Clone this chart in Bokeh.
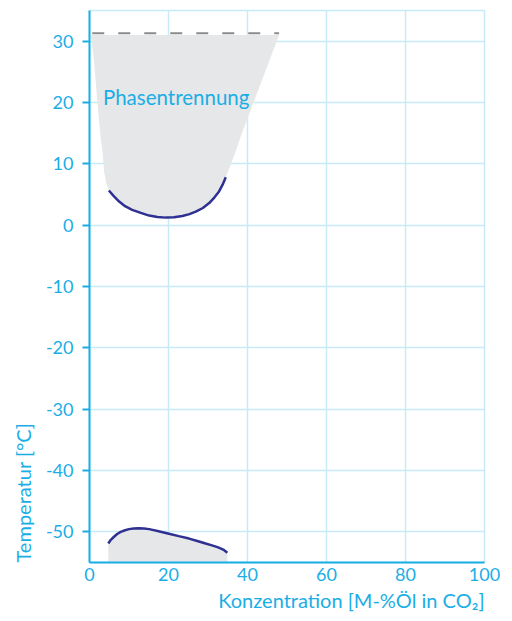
from bokeh.plotting import figure
from bokeh.models import FixedTicker, Range1d, Title
from bokeh.core.properties import value
from bokeh.embed import file_html
from bokeh.resources import INLINE

# ---- data ----
x_ticks = [0, 20, 40, 60, 80, 100]
y_ticks = [30, 20, 10, 0, -10, -20, -30, -40, -50]
y_tick_labels = ["30", "20", "10", "0", "-10", "-20", "-30", "-40", "-50"]

# upper region: left edge (top -> down)
upper_left_x = [0.3, 1.1, 2.0, 2.8, 3.3, 3.7, 4.2]
upper_left_y = [31.0, 27.0, 20.0, 14.4, 12.0, 8.7, 7.0]
# upper blue curve
upper_curve_x = [4.9, 6.2, 7.5, 9.0, 10.8, 13.0, 15.1, 17.2, 19.3, 21.4, 23.5, 25.3, 26.9, 28.7, 30.3, 31.6, 32.8, 33.7, 34.5]
upper_curve_y = [5.65, 4.7, 3.85, 3.1, 2.5, 2.0, 1.56, 1.33, 1.23, 1.3, 1.5, 1.8, 2.2, 2.8, 3.6, 4.5, 5.5, 6.6, 7.8]
# upper right edge (bottom -> top)
upper_right_x = [35.7, 37.0, 38.3, 48.0]
upper_right_y = [9.8, 12.0, 14.5, 31.0]

# critical temperature dashed line
crit_x = [0.7, 48.0]
crit_y = [31.3, 31.3]

# lower region curve
lower_curve_x = [4.76, 5.4, 6.2, 7.0, 7.9, 9.0, 10.0, 11.2, 12.5, 13.8, 15.1, 17.5, 20.1, 22.6, 25.2, 27.3, 29.4, 31.0, 32.4, 33.3, 34.1, 34.9]
lower_curve_y = [-51.9, -51.3, -50.8, -50.35, -50.0, -49.75, -49.56, -49.45, -49.4, -49.45, -49.56, -49.9, -50.3, -50.7, -51.1, -51.5, -51.9, -52.2, -52.5, -52.75, -53.0, -53.4]
y_floor = -55

label_text = "Phasentrennung"
label_x = 3.4
label_y = 20.85

CYAN = "#1aaee6"
GRID = "#c8e9f8"
NAVY = "#2e3192"
FILL = "#e6e7e8"
FONT = "Lato"

p = figure(width=500, height=613, output_backend="svg", toolbar_location=None,
           x_range=Range1d(0, 100), y_range=Range1d(-55, 35),
           min_border_left=88, min_border_right=16, min_border_top=10, min_border_bottom=51)
p.background_fill_color = "white"
p.border_fill_color = "white"
p.outline_line_color = GRID
p.outline_line_width = 1.5

# fills
poly_x = upper_left_x + upper_curve_x + upper_right_x
poly_y = upper_left_y + upper_curve_y + upper_right_y
p.patch(poly_x, poly_y, fill_color=FILL, line_color=None)
low_x = lower_curve_x + [lower_curve_x[-1], lower_curve_x[0]]
low_y = lower_curve_y + [y_floor, y_floor]
p.patch(low_x, low_y, fill_color=FILL, line_color=None)

# curves
p.line(upper_curve_x, upper_curve_y, line_color=NAVY, line_width=2.5)
p.line(lower_curve_x, lower_curve_y, line_color=NAVY, line_width=2.5)
p.line(crit_x, crit_y, line_color="#8a8a8a", line_width=2, line_dash="12 14")

p.text(x=[label_x], y=[label_y], text=[label_text], text_color=CYAN,
       text_font=value(FONT), text_font_size="20.5px", text_baseline="alphabetic", text_align="left")

# grid
p.xgrid.ticker = FixedTicker(ticks=x_ticks)
p.ygrid.ticker = FixedTicker(ticks=y_ticks)
for g in (p.xgrid, p.ygrid):
    g.grid_line_color = GRID
    g.grid_line_width = 1.5

# axes
p.xaxis.ticker = FixedTicker(ticks=x_ticks)
p.yaxis.ticker = FixedTicker(ticks=y_ticks)
p.yaxis.major_label_overrides = {t: l for t, l in zip(y_ticks, y_tick_labels)}
for ax in (p.xaxis, p.yaxis):
    ax.axis_line_color = CYAN
    ax.axis_line_width = 2
    ax.major_tick_line_color = CYAN
    ax.major_tick_line_width = 2
    ax.minor_tick_line_color = None
    ax.major_label_text_color = CYAN
    ax.major_label_text_font = FONT
    ax.major_label_text_font_size = "18px"
p.xaxis.major_tick_out = 0
p.xaxis.major_tick_in = 0
p.yaxis.major_tick_out = 7
p.yaxis.major_tick_in = 0
p.xaxis.major_label_standoff = 5
p.yaxis.major_label_standoff = 9

xlab = Title(text="Konzentration [M-%Öl in CO₂]", align="right", text_color=CYAN,
             text_font=FONT, text_font_size="20px", text_font_style="normal", standoff=4)
ylab = Title(text="Temperatur [°C]", align="left", text_color=CYAN,
             text_font=FONT, text_font_size="20px", text_font_style="normal", standoff=16)
p.add_layout(xlab, "below")
p.add_layout(ylab, "left")

open("out.html", "w").write(file_html(p, INLINE))
